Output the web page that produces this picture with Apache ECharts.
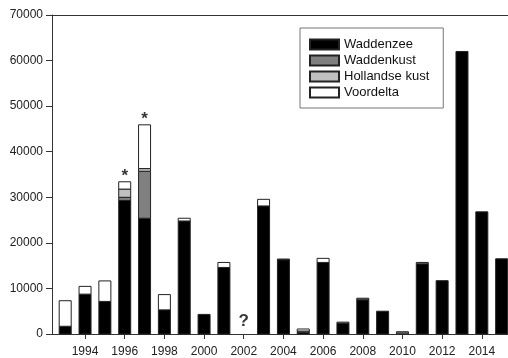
<!DOCTYPE html>
<html>
<head>
<meta charset="utf-8">
<script src="https://cdn.jsdelivr.net/npm/echarts@6/dist/echarts.min.js"></script>
<style>
  html, body { margin: 0; padding: 0; background: #fff; }
  #chart { width: 508px; height: 358px; }
</style>
</head>
<body>
<div id="chart"></div>
<script>
// Years with counts (2002 unknown)
const years         = [1993, 1994, 1995, 1996, 1997, 1998, 1999, 2000, 2001, 2003, 2004, 2005, 2006, 2007, 2008, 2009, 2010, 2011, 2012, 2013, 2014, 2015];
const waddenzee     = [1700, 8750, 7150, 29300, 25400, 5300, 24800, 4300, 14600, 28100, 16300, 400, 15700, 2300, 7500, 5000, 0, 15400, 11700, 62000, 26800, 16500];
const waddenkust    = [0, 0, 0, 700, 10300, 0, 0, 0, 0, 0, 150, 0, 0, 300, 350, 0, 0, 0, 0, 0, 0, 0];
const hollandseKust = [0, 0, 0, 1800, 600, 0, 0, 0, 0, 0, 0, 250, 0, 0, 0, 0, 250, 300, 0, 0, 0, 0];
const voordelta     = [5600, 1700, 4500, 1600, 9600, 3350, 600, 0, 1100, 1450, 0, 450, 900, 0, 0, 0, 250, 0, 0, 0, 0, 0];

// Axis ticks
const xTickYears = [1994, 1996, 1998, 2000, 2002, 2004, 2006, 2008, 2010, 2012, 2014];

// Annotations above bars
const noteYears = [1996, 1997, 2002];
const noteTexts = ['*', '*', '?'];

const seriesDefs = [
  { name: 'Waddenzee',      values: waddenzee,     color: '#000000' },
  { name: 'Waddenkust',     values: waddenkust,    color: '#808080' },
  { name: 'Hollandse kust', values: hollandseKust, color: '#c0c0c0' },
  { name: 'Voordelta',      values: voordelta,     color: '#ffffff' }
];

// Running base of each stacked segment
const bases = [];
let running = years.map(() => 0);
seriesDefs.forEach(d => {
  bases.push(running.slice());
  running = running.map((r, i) => r + d.values[i]);
});
const totals = running;
const totalFor = yr => { const i = years.indexOf(yr); return i < 0 ? 0 : totals[i]; };

const BAR_W = 12;
const strokeColor = '#222';

const chart = echarts.init(document.getElementById('chart'), null, { renderer: 'canvas' });

const barSeries = seriesDefs.map((d, k) => ({
  name: d.name,
  type: 'custom',
  xAxisIndex: 0,
  yAxisIndex: 0,
  silent: true,
  itemStyle: { color: d.color, borderColor: strokeColor, borderWidth: 1 },
  encode: { x: 0, y: 1 },
  data: years.map((y, i) => [y, bases[k][i] + d.values[i], bases[k][i]]),
  renderItem: (params, api) => {
    const x = api.value(0), top = api.value(1), base = api.value(2);
    if (!(top > base)) return null;
    const p0 = api.coord([x, base]);
    const p1 = api.coord([x, top]);
    return {
      type: 'rect',
      shape: { x: p0[0] - BAR_W / 2, y: p1[1], width: BAR_W, height: p0[1] - p1[1] },
      style: { fill: d.color, stroke: strokeColor, lineWidth: 1 }
    };
  }
}));

// Asterisks sit high in their glyph box, so they hug the bar; the question mark floats a little higher
const noteSeries = {
  name: 'notes',
  type: 'scatter',
  xAxisIndex: 0,
  symbolSize: 0.01,
  silent: true,
  data: noteYears.map((y, i) => ({
    value: [y, totalFor(y)],
    name: noteTexts[i],
    label: { distance: noteTexts[i] === '*' ? -3 : 4 }
  })),
  label: {
    show: true,
    position: 'top',
    formatter: p => p.name,
    fontFamily: 'Liberation Sans, Arial, sans-serif',
    fontWeight: 'bold',
    fontSize: 17,
    color: '#000'
  }
};

const axisColor = '#333';
const font = 'Liberation Sans, Arial, sans-serif';

chart.setOption({
  animation: false,
  backgroundColor: '#ffffff',
  grid: { left: 52, top: 15, right: 0, bottom: 23, containLabel: false },
  legend: {
    data: seriesDefs.map(d => d.name),
    orient: 'vertical',
    left: 300,
    top: 28,
    padding: [10, 14, 9, 9],
    itemWidth: 29,
    itemHeight: 10,
    itemGap: 3,
    icon: 'rect',
    borderColor: '#777',
    borderWidth: 1,
    textStyle: { fontFamily: font, fontSize: 13, color: '#111' },
    selectedMode: false
  },
  xAxis: [
    {
      type: 'value',
      min: 1992.335,
      max: 2015.32,
      splitLine: { show: false },
      axisLine: { show: true, onZero: false, lineStyle: { color: axisColor, width: 1 } },
      axisTick: { show: true, customValues: xTickYears, length: 5, inside: false, lineStyle: { color: axisColor } },
      axisLabel: {
        customValues: xTickYears,
        formatter: v => String(v),
        fontFamily: font, fontSize: 12, color: '#222', margin: 12
      }
    },
    {
      type: 'value',
      position: 'top',
      min: 1992.335,
      max: 2015.32,
      splitLine: { show: false },
      axisLine: { show: true, onZero: false, lineStyle: { color: axisColor, width: 1 } },
      axisTick: { show: false },
      axisLabel: { show: false }
    }
  ],
  yAxis: {
    type: 'value',
    min: 0,
    max: 70000,
    interval: 10000,
    splitLine: { show: false },
    axisLine: { show: true, lineStyle: { color: axisColor, width: 1 } },
    axisTick: { show: true, length: 6, inside: false, lineStyle: { color: axisColor } },
    axisLabel: { formatter: v => String(v), fontFamily: font, fontSize: 12, color: '#222', margin: 9 }
  },
  series: barSeries.concat([noteSeries])
});
</script>
</body>
</html>
